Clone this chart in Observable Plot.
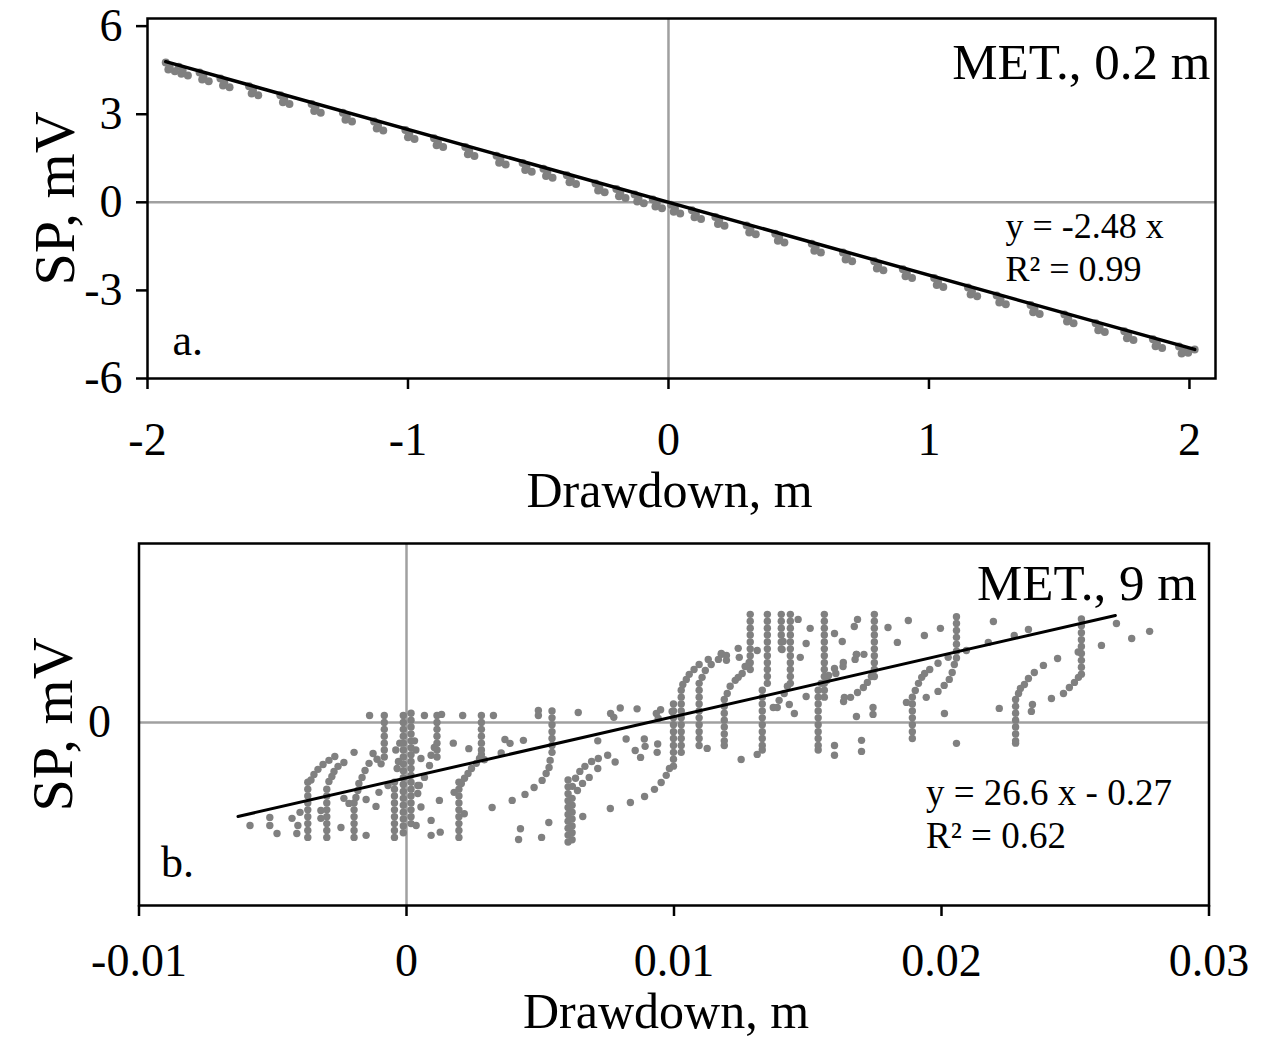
<!DOCTYPE html>
<html><head><meta charset="utf-8">
<script src="https://cdn.jsdelivr.net/npm/d3@7"></script>
<script src="https://cdn.jsdelivr.net/npm/@observablehq/plot@0.6"></script>
<style>body{margin:0;background:#fff} #chart svg{display:block}</style>
</head><body><div id="chart"></div>
<script>
// ---------- Panel a: MET., 0.2 m ----------
const titleA = "MET., 0.2 m";
const eqA = ["y = -2.48 x", "R\u00B2 = 0.99"];
const xTicksA = [-2, -1, 0, 1, 2];
const yTicksA = [-6, -3, 0, 3, 6];
const fitA_x = [-1.93, 2.02];
const fitA_y = [4.79, -5.01];
const pointsA = [
[-1.93,4.76],[-1.915,4.62],[-1.92,4.52],[-1.895,4.46],
[-1.88,4.62],[-1.865,4.48],[-1.87,4.38],[-1.845,4.32],
[-1.80,4.42],[-1.785,4.28],[-1.79,4.18],[-1.765,4.12],
[-1.72,4.22],[-1.705,4.08],[-1.71,3.98],[-1.685,3.92],
[-1.61,3.95],[-1.595,3.81],[-1.60,3.71],[-1.575,3.65],
[-1.49,3.65],[-1.475,3.51],[-1.48,3.41],[-1.455,3.35],
[-1.37,3.35],[-1.355,3.21],[-1.36,3.11],[-1.335,3.05],
[-1.25,3.05],[-1.235,2.91],[-1.24,2.81],[-1.215,2.75],
[-1.13,2.75],[-1.115,2.61],[-1.12,2.51],[-1.095,2.45],
[-1.01,2.46],[-0.995,2.32],[-1.00,2.22],[-0.975,2.16],
[-0.90,2.18],[-0.885,2.04],[-0.89,1.94],[-0.865,1.88],
[-0.78,1.88],[-0.765,1.74],[-0.77,1.64],[-0.745,1.58],
[-0.66,1.59],[-0.645,1.45],[-0.65,1.35],[-0.625,1.29],
[-0.56,1.34],[-0.545,1.20],[-0.55,1.10],[-0.525,1.04],
[-0.48,1.14],[-0.465,1.00],[-0.47,0.90],[-0.445,0.84],
[-0.39,0.92],[-0.375,0.78],[-0.38,0.68],[-0.355,0.62],
[-0.28,0.64],[-0.265,0.50],[-0.27,0.40],[-0.245,0.34],
[-0.20,0.45],[-0.185,0.31],[-0.19,0.21],[-0.165,0.15],
[-0.13,0.27],[-0.115,0.13],[-0.12,0.03],[-0.095,-0.03],
[-0.06,0.10],[-0.045,-0.04],[-0.05,-0.14],[-0.025,-0.20],
[0.01,-0.08],[0.025,-0.22],[0.02,-0.32],[0.045,-0.38],
[0.09,-0.27],[0.105,-0.41],[0.10,-0.51],[0.125,-0.57],
[0.18,-0.50],[0.195,-0.64],[0.19,-0.74],[0.215,-0.80],
[0.30,-0.79],[0.315,-0.93],[0.31,-1.03],[0.335,-1.09],
[0.41,-1.07],[0.425,-1.21],[0.42,-1.31],[0.445,-1.37],
[0.55,-1.41],[0.565,-1.55],[0.56,-1.65],[0.585,-1.71],
[0.67,-1.71],[0.685,-1.85],[0.68,-1.95],[0.705,-2.01],
[0.79,-2.01],[0.805,-2.15],[0.80,-2.25],[0.825,-2.31],
[0.90,-2.28],[0.915,-2.42],[0.91,-2.52],[0.935,-2.58],
[1.02,-2.58],[1.035,-2.72],[1.03,-2.82],[1.055,-2.88],
[1.15,-2.90],[1.165,-3.04],[1.16,-3.14],[1.185,-3.20],
[1.26,-3.17],[1.275,-3.31],[1.27,-3.41],[1.295,-3.47],
[1.39,-3.50],[1.405,-3.64],[1.40,-3.74],[1.425,-3.80],
[1.52,-3.82],[1.535,-3.96],[1.53,-4.06],[1.555,-4.12],
[1.64,-4.12],[1.655,-4.26],[1.65,-4.36],[1.675,-4.42],
[1.75,-4.39],[1.765,-4.53],[1.76,-4.63],[1.785,-4.69],
[1.86,-4.66],[1.875,-4.80],[1.87,-4.90],[1.895,-4.96],
[1.96,-4.91],[1.975,-5.05],[1.97,-5.15],[1.995,-5.12],
[2.02,-5.01]
];

// ---------- Panel b: MET., 9 m ----------
const titleB = "MET., 9 m";
const eqB = ["y = 26.6 x - 0.27", "R\u00B2 = 0.62"];
const xTicksB = [-0.01, 0, 0.01, 0.02, 0.03];
const yTicksB = [0];
const fitB_x = [-0.0063, 0.0265];
const fitB_y = [-0.409, 0.465];
// vertical runs of readings (drawdown, list of SP values)
const columnsB = [
{x:-0.00369, y:[-0.50,-0.47,-0.44,-0.41,-0.38,-0.35,-0.32,-0.29,-0.26]},
{x:-0.00298, y:[-0.50,-0.47,-0.44,-0.41,-0.38,-0.35,-0.32,-0.29]},
{x:-0.00196, y:[-0.50,-0.47,-0.44,-0.41,-0.38,-0.35]},
{x:-0.00083, y:[0.03,0.00,-0.03,-0.06,-0.09,-0.12,-0.15]},
{x:-0.00045, y:[-0.50,-0.47,-0.44,-0.41,-0.38,-0.35,-0.32,-0.29,-0.26]},
{x:-0.00012, y:[0.03,0.00,-0.03,-0.06,-0.09,-0.12,-0.15,-0.18,-0.21,-0.24,-0.27,-0.30,-0.33,-0.36,-0.39,-0.42,-0.45,-0.48]},
{x:0.00017, y:[0.04,0.01,-0.02,-0.05,-0.08,-0.11,-0.14,-0.17,-0.20,-0.23,-0.26,-0.29,-0.32,-0.35,-0.38,-0.41,-0.44]},
{x:0.00114, y:[0.03,0.00,-0.03,-0.06,-0.09,-0.12,-0.15]},
{x:0.00196, y:[-0.50,-0.47,-0.44,-0.41,-0.38,-0.35,-0.32,-0.29,-0.26]},
{x:0.00280, y:[0.03,0.00,-0.03,-0.06,-0.09,-0.12,-0.14]},
{x:0.00544, y:[0.05,0.02,-0.01,-0.04,-0.07,-0.10,-0.13]},
{x:0.00604, y:[-0.52,-0.49,-0.46,-0.43,-0.40,-0.37,-0.34,-0.31,-0.28,-0.25]},
{x:0.00619, y:[-0.51,-0.48,-0.45,-0.42,-0.39,-0.36,-0.33]},
{x:0.00998, y:[0.08,0.05,0.02,-0.01,-0.04,-0.07,-0.10,-0.13,-0.16,-0.19]},
{x:0.01027, y:[0.14,0.11,0.08,0.05,0.02,-0.01,-0.04,-0.07,-0.10,-0.13]},
{x:0.01094, y:[0.17,0.14,0.11,0.08,0.05,0.02,-0.01,-0.04,-0.07,-0.10]},
{x:0.01188, y:[0.10,0.07,0.04,0.01,-0.02,-0.05,-0.08,-0.10]},
{x:0.01285, y:[0.47,0.44,0.41,0.38,0.35,0.32,0.29,0.26,0.23]},
{x:0.01330, y:[0.14,0.11,0.08,0.05,0.02,-0.01,-0.04,-0.07,-0.10,-0.12]},
{x:0.01349, y:[0.47,0.44,0.41,0.38,0.35,0.32,0.29,0.26,0.23,0.20,0.17]},
{x:0.01401, y:[0.47,0.44,0.41,0.38,0.35,0.32]},
{x:0.01435, y:[0.47,0.44,0.41,0.38,0.35,0.32,0.29,0.26,0.23,0.20,0.17]},
{x:0.01539, y:[0.14,0.11,0.08,0.05,0.02,-0.01,-0.04,-0.07,-0.10,-0.12]},
{x:0.01562, y:[0.47,0.44,0.41,0.38,0.35,0.32,0.29,0.26,0.23,0.20,0.17,0.14,0.11]},
{x:0.01749, y:[0.47,0.44,0.41,0.38,0.35,0.32,0.29,0.26,0.23,0.20]},
{x:0.01891, y:[0.11,0.08,0.05,0.02,-0.01,-0.04,-0.07]},
{x:0.02056, y:[0.46,0.43,0.40,0.37,0.34,0.31,0.28]},
{x:0.02277, y:[0.10,0.07,0.04,0.01,-0.02,-0.05,-0.08,-0.09]},
{x:0.02523, y:[0.45,0.42,0.39,0.36,0.33,0.30,0.27,0.24,0.21]}
];
// transitions between runs (drawdown, SP)
const curvesB = [
[-0.00357,-0.250],[-0.00346,-0.226],[-0.00331,-0.204],[-0.00312,-0.183],[-0.00290,-0.165],[-0.00268,-0.148],
[-0.00290,-0.257],[-0.00279,-0.235],[-0.00271,-0.213],[-0.00256,-0.191],[-0.00234,-0.174],[-0.00196,-0.130],
[-0.00189,-0.326],[-0.00182,-0.296],[-0.00178,-0.265],[-0.00166,-0.239],[-0.00155,-0.209],[-0.00140,-0.178],[-0.00125,-0.135],[-0.00110,-0.160],[-0.00095,-0.180],
[-0.00035,-0.200],[-0.00030,-0.170],[-0.00040,-0.120],[0.00030,-0.080],[0.00035,-0.120],[-0.00025,-0.090],
[0.00104,-0.109],[0.00092,-0.143],[0.00086,-0.187],[0.00067,-0.239],[0.00048,-0.274],[0.00042,-0.309],
[0.00205,-0.265],[0.00217,-0.243],[0.00230,-0.222],[0.00243,-0.200],[0.00261,-0.178],[0.00273,-0.157],
[0.00537,-0.165],[0.00533,-0.196],[0.00522,-0.222],[0.00507,-0.252],[0.00477,-0.283],[0.00443,-0.313],[0.00395,-0.339],[0.00320,-0.370],
[0.00620,-0.278],[0.00632,-0.243],[0.00648,-0.213],[0.00667,-0.191],[0.00692,-0.170],[0.00717,-0.157],
[0.00639,-0.296],[0.00658,-0.265],[0.00683,-0.239],[0.00715,-0.200],[0.00752,-0.143],[0.00780,-0.172],
[0.00983,-0.200],[0.00971,-0.230],[0.00952,-0.261],[0.00927,-0.291],[0.00890,-0.322],[0.00837,-0.348],[0.00762,-0.374],[0.00659,-0.409],
[0.01033,0.165],[0.01046,0.187],[0.01057,0.209],[0.01075,0.230],[0.01094,0.252],[0.01128,0.274],[0.01177,0.296],
[0.01105,0.196],[0.01117,0.226],[0.01139,0.252],[0.01166,0.274],[0.01196,0.291],
[0.01199,0.126],[0.01210,0.157],[0.01229,0.183],[0.01240,0.196],[0.01255,0.213],[0.01266,0.243],[0.01281,0.261],
[0.01424,0.157],[0.01412,0.126],[0.01393,0.096],[0.01371,0.065],
[0.01550,0.170],[0.01572,0.183],[0.01605,0.213],[0.01632,0.243],[0.01677,0.274],[0.01710,0.296],
[0.01578,0.204],[0.01600,0.235],[0.01633,0.261],[0.01682,0.296],
[0.01738,0.200],[0.01723,0.174],[0.01708,0.152],[0.01686,0.130],[0.01660,0.109],[0.01634,0.091],
[0.01902,0.139],[0.01914,0.170],[0.01926,0.196],[0.01937,0.213],[0.01956,0.230],[0.01987,0.257],[0.02025,0.283],
[0.02048,0.252],[0.02040,0.217],[0.02029,0.187],[0.02010,0.161],[0.01987,0.135],[0.01943,0.109],
[0.02288,0.126],[0.02295,0.148],[0.02310,0.165],[0.02325,0.191],[0.02347,0.217],[0.02381,0.248],[0.02434,0.278],
[0.02512,0.196],[0.02497,0.174],[0.02478,0.152],[0.02456,0.126],[0.02411,0.104],[0.02340,0.078]
];
// isolated readings (drawdown, SP)
const scatterB = [
[-0.00585,-0.448],[-0.00511,-0.413],[-0.00511,-0.448],[-0.00484,-0.483],[-0.00428,-0.417],[-0.00398,-0.391],
[-0.00406,-0.448],[-0.00410,-0.483],[-0.00320,-0.383],[-0.00320,-0.417],[-0.00245,-0.457],[-0.00234,-0.330],
[-0.00215,-0.352],[-0.00151,-0.335],[-0.00151,-0.491],[-0.00114,-0.365],[-0.00103,-0.304],[-0.00069,-0.274],
[-0.00138,0.030],[0.00067,0.030],[0.00131,0.035],[0.00210,0.030],[0.00325,0.030],[0.00493,0.052],[0.00493,0.030],
[0.00642,0.043],[0.00763,0.039],[0.00775,0.022],[0.00799,0.063],[0.00862,0.059],[0.00934,0.039],[0.00950,0.055],[0.00993,0.048],
[0.00054,-0.157],[0.00042,-0.274],[0.00054,-0.368],[0.00123,-0.339],[0.00092,-0.426],[0.00092,-0.491],[0.00126,-0.477],
[0.00036,-0.448],[0.00175,-0.090],[0.00233,-0.114],[0.00291,-0.162],[0.00354,-0.133],[0.00216,-0.397],[0.00178,-0.304],
[0.00368,-0.074],[0.00387,-0.091],[0.00437,-0.078],
[0.00426,-0.462],[0.00419,-0.509],[0.00505,-0.500],[0.00532,-0.435],
[0.00715,-0.080],[0.00821,-0.072],[0.00855,-0.122],[0.00875,-0.152],[0.00889,-0.072],[0.00939,-0.094],
[0.00892,-0.104],[0.00937,-0.130],[0.00941,0.017],
[0.01124,-0.113],[0.01251,-0.161],[0.01311,-0.139],[0.01240,0.322],[0.01244,0.283],[0.01311,0.313],
[0.01408,0.352],[0.01404,0.317],[0.01464,0.448],[0.01509,0.409],[0.01494,0.343],[0.01472,0.283],
[0.01431,0.078],[0.01450,0.039],[0.01386,0.065],[0.01494,0.113],[0.01600,-0.100],[0.01701,-0.078],
[0.01637,0.109],[0.01682,0.026],[0.01744,0.065],[0.01600,-0.143],[0.01701,-0.126],[0.01744,0.035],
[0.01177,0.300],[0.01196,0.270],
[0.01800,0.413],[0.01876,0.443],[0.01835,0.348],[0.01936,0.378],[0.01996,0.409],[0.02093,0.313],
[0.02011,0.039],[0.02056,-0.091],[0.01869,0.087],[0.01674,0.417],[0.01686,0.448],[0.01600,0.387],
[0.01629,0.352],[0.01682,0.296],[0.02194,0.439],[0.02272,0.378],[0.02325,0.404],[0.02175,0.348],
[0.02216,0.061],[0.02336,0.048],[0.02598,0.335],[0.02654,0.430],[0.02711,0.365],[0.02778,0.396],[0.02511,0.306]
];

const xLabel = "Drawdown, m";
const yLabel = "SP, mV";

// ---------- drawing ----------
const FONT = "'Liberation Serif', 'Times New Roman', serif";
const GRAY = "#808080";
const REF = "#a0a0a0";
const fmt = d => String(d);
const asObj = p => ({x: p[0], y: p[1]});

const dataA = pointsA.map(asObj);
const lineA = fitA_x.map((x, i) => ({x, y: fitA_y[i]}));
const dataB = columnsB.flatMap(c => c.y.map(y => ({x: c.x, y})))
  .concat(curvesB.map(asObj), scatterB.map(asObj));
const lineB = fitB_x.map((x, i) => ({x, y: fitB_y[i]}));

const T = d => d;

const plotA = Plot.plot({
  width: 1272, height: 520,
  marginLeft: 147, marginRight: 57, marginTop: 18, marginBottom: 142,
  style: {fontFamily: FONT, background: "white", color: "black"},
  x: {domain: [-2, 2.1]},
  y: {domain: [-6, 6.26]},
  marks: [
    Plot.ruleX([0], {stroke: REF, strokeWidth: 2.5}),
    Plot.ruleY([0], {stroke: REF, strokeWidth: 2.5}),
    Plot.dot(dataA, {x: "x", y: "y", r: 4, fill: GRAY}),
    Plot.line(lineA, {x: "x", y: "y", stroke: "black", strokeWidth: 3.5}),
    Plot.frame({stroke: "black", strokeWidth: 2.5}),
    Plot.axisX({ticks: xTicksA, tickSize: 11, tickPadding: 33, tickFormat: fmt, fontSize: 46, strokeWidth: 2.5, label: null}),
    Plot.axisY({ticks: yTicksA, tickSize: 11, tickPadding: 14, tickFormat: fmt, fontSize: 46, strokeWidth: 2.5, label: null}),
    Plot.text([xLabel], {text: T, frameAnchor: "bottom", dx: -12, dy: 112, fontSize: 50, lineAnchor: "middle"}),
    Plot.text([yLabel], {text: T, frameAnchor: "left", dx: -92, rotate: -90, fontSize: 58, textAnchor: "middle", lineAnchor: "middle"}),
    Plot.text([titleA], {text: T, frameAnchor: "top-right", dx: -5, dy: 44, textAnchor: "end", lineAnchor: "middle", fontSize: 51}),
    Plot.text([eqA[0]], {text: T, frameAnchor: "right", dx: -210, dy: 28, textAnchor: "start", lineAnchor: "middle", fontSize: 36}),
    Plot.text([eqA[1]], {text: T, frameAnchor: "right", dx: -210, dy: 71, textAnchor: "start", lineAnchor: "middle", fontSize: 36}),
    Plot.text(["a."], {text: T, frameAnchor: "bottom-left", dx: 25, dy: -38, textAnchor: "start", lineAnchor: "middle", fontSize: 44})
  ]
});

const plotB = Plot.plot({
  width: 1272, height: 521,
  marginLeft: 138.5, marginRight: 63.5, marginTop: 23, marginBottom: 136,
  style: {fontFamily: FONT, background: "white", color: "black"},
  x: {domain: [-0.01, 0.03]},
  y: {domain: [-0.796, 0.778]},
  marks: [
    Plot.ruleX([0], {stroke: REF, strokeWidth: 2.5}),
    Plot.ruleY([0], {stroke: REF, strokeWidth: 2.5}),
    Plot.dot(dataB, {x: "x", y: "y", r: 3.7, fill: GRAY}),
    Plot.line(lineB, {x: "x", y: "y", stroke: "black", strokeWidth: 3}),
    Plot.frame({stroke: "black", strokeWidth: 2.5}),
    Plot.axisX({ticks: xTicksB, tickSize: 11, tickPadding: 27, tickFormat: fmt, fontSize: 46, strokeWidth: 2.5, label: null}),
    Plot.axisY({ticks: yTicksB, tickSize: 0, tickPadding: 28, tickFormat: fmt, fontSize: 46, strokeWidth: 2.5, label: null}),
    Plot.text([xLabel], {text: T, frameAnchor: "bottom", dx: -8, dy: 106, fontSize: 50, lineAnchor: "middle"}),
    Plot.text([yLabel], {text: T, frameAnchor: "left", dx: -86, rotate: -90, fontSize: 58, textAnchor: "middle", lineAnchor: "middle"}),
    Plot.text([titleB], {text: T, frameAnchor: "top-right", dx: -12, dy: 40, textAnchor: "end", lineAnchor: "middle", fontSize: 51}),
    Plot.text([eqB[0]], {text: T, frameAnchor: "right", dx: -283, dy: 69, textAnchor: "start", lineAnchor: "middle", fontSize: 37}),
    Plot.text([eqB[1]], {text: T, frameAnchor: "right", dx: -283, dy: 112, textAnchor: "start", lineAnchor: "middle", fontSize: 37}),
    Plot.text(["b."], {text: T, frameAnchor: "bottom-left", dx: 22, dy: -43, textAnchor: "start", lineAnchor: "middle", fontSize: 44})
  ]
});

const root = document.getElementById("chart");
root.appendChild(plotA);
root.appendChild(plotB);
</script>
</body></html>
